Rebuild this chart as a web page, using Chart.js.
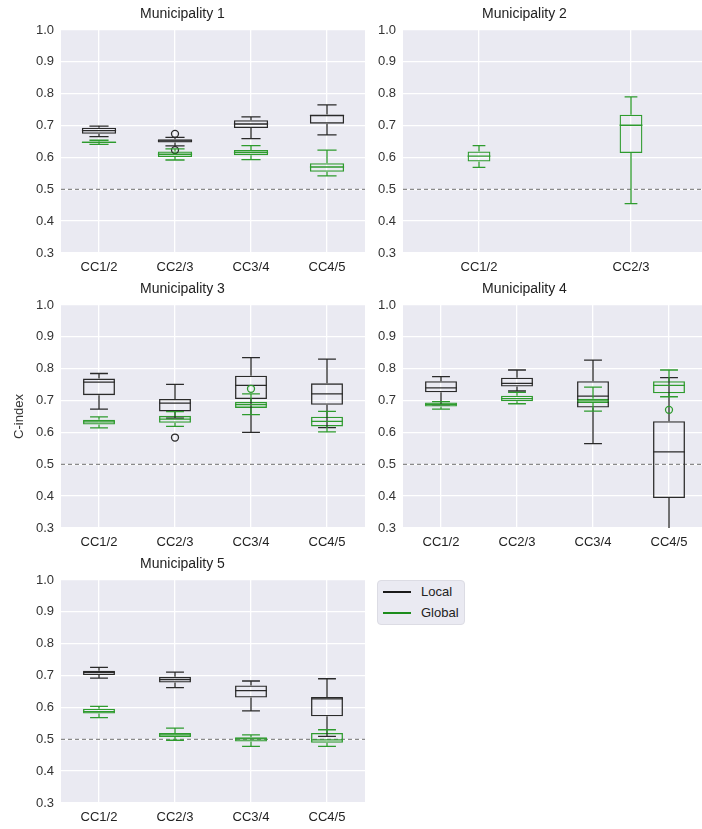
<!DOCTYPE html>
<html>
<head>
<meta charset="utf-8">
<script src="https://cdn.jsdelivr.net/npm/chart.js@4/dist/chart.umd.min.js"></script>
<style>
  body { margin:0; background:#fff; width:702px; height:829px; overflow:hidden; position:relative;
         font-family:"Liberation Sans", Arial, sans-serif; }
  canvas { position:absolute; }
  #legend { position:absolute; left:377px; top:580px; width:88px; height:45px; background:#eaeaf2;
            border:1px solid #dcdce4; border-radius:4px; box-sizing:border-box; }
  #legend .row { position:absolute; left:0; height:20px; font-size:13px; color:#222; }
  #legend .ln { position:absolute; left:5px; width:28px; height:2px; top:9px; }
  #legend .tx { position:absolute; left:43px; top:2px; }
</style>
</head>
<body>
<canvas id="m1"></canvas>
<canvas id="m2"></canvas>
<canvas id="m3"></canvas>
<canvas id="m4"></canvas>
<canvas id="m5"></canvas>
<div id="legend">
  <div class="row" style="top:1px"><span class="ln" style="background:#1a1a1a"></span><span class="tx">Local</span></div>
  <div class="row" style="top:22px"><span class="ln" style="background:#1c8c1c"></span><span class="tx">Global</span></div>
</div>
<script>
// box stats: [min whisker, q1, median, q3, max whisker]
var categories = ['CC1/2', 'CC2/3', 'CC3/4', 'CC4/5'];
var categoriesM2 = ['CC1/2', 'CC2/3'];

var m1Local  = [[0.665,0.674,0.684,0.693,0.698],[0.636,0.647,0.652,0.657,0.663],[0.659,0.692,0.705,0.717,0.727],[0.671,0.706,0.731,0.735,0.765]];
var m1Global = [[0.641,0.645,0.647,0.650,0.654],[0.592,0.601,0.610,0.619,0.627],[0.593,0.607,0.615,0.623,0.637],[0.542,0.555,0.570,0.582,0.623]];
var m1LocalOut  = [[], [0.674, 0.623], [], []];
var m1GlobalOut = [[], [], [], []];

var m2Global = [[0.569,0.587,0.604,0.619,0.637],[0.455,0.614,0.701,0.734,0.790]];
var m2GlobalOut = [[], []];

var m3Local  = [[0.673,0.717,0.758,0.769,0.785],[0.645,0.666,0.692,0.705,0.751],[0.600,0.705,0.748,0.778,0.835],[0.615,0.687,0.721,0.754,0.830]];
var m3Global = [[0.614,0.625,0.633,0.640,0.649],[0.619,0.630,0.642,0.652,0.665],[0.656,0.677,0.687,0.696,0.721],[0.602,0.619,0.635,0.649,0.666]];
var m3LocalOut  = [[], [0.584], [], []];
var m3GlobalOut = [[], [], [0.737], []];

var m4Local  = [[0.687,0.726,0.740,0.761,0.775],[0.730,0.744,0.754,0.772,0.796],[0.565,0.678,0.714,0.761,0.827],[0.280,0.394,0.539,0.635,0.772]];
var m4Global = [[0.673,0.681,0.688,0.694,0.697],[0.690,0.698,0.706,0.715,0.726],[0.667,0.692,0.699,0.706,0.742],[0.712,0.723,0.748,0.761,0.796]];
var m4LocalOut  = [[], [], [], []];
var m4GlobalOut = [[], [], [], [0.671]];

var m5Local  = [[0.692,0.702,0.710,0.715,0.726],[0.662,0.678,0.687,0.696,0.711],[0.589,0.631,0.653,0.669,0.683],[0.509,0.572,0.627,0.633,0.690]];
var m5Global = [[0.568,0.581,0.587,0.596,0.603],[0.497,0.507,0.514,0.520,0.535],[0.478,0.493,0.501,0.506,0.514],[0.478,0.489,0.498,0.520,0.530]];
var m5LocalOut  = [[], [], [], []];
var m5GlobalOut = [[], [], [], []];

var yTicks = [0.3, 0.4, 0.5, 0.6, 0.7, 0.8, 0.9, 1.0];
var chanceLevel = 0.5;

var LOCAL_COLOR = '#2a2a2a';
var GLOBAL_COLOR = '#2e9b2e';
var AXIS_W = 61, TITLE_H = 24, XAXIS_H = 30;

var bgPlugin = {
    id: 'bg',
    beforeDraw: function (chart) {
        var a = chart.chartArea, ctx = chart.ctx;
        ctx.save();
        ctx.fillStyle = '#eaeaf2';
        ctx.fillRect(a.left, a.top, a.right - a.left, a.bottom - a.top);
        ctx.restore();
    }
};

var boxPlugin = {
    id: 'boxes',
    beforeDatasetsDraw: function (chart) {
        var a = chart.chartArea, ctx = chart.ctx;
        var y = chart.scales.y.getPixelForValue(chanceLevel);
        ctx.save();
        ctx.strokeStyle = '#8a8a8a';
        ctx.lineWidth = 1.2;
        ctx.setLineDash([4, 3]);
        ctx.beginPath();
        ctx.moveTo(a.left, y);
        ctx.lineTo(a.right, y);
        ctx.stroke();
        ctx.restore();
    },
    afterDatasetsDraw: function (chart) {
        var a = chart.chartArea, ctx = chart.ctx, ys = chart.scales.y;
        ctx.save();
        ctx.beginPath();
        ctx.rect(a.left, a.top, a.right - a.left, a.bottom - a.top);
        ctx.clip();
        chart.data.datasets.forEach(function (ds, i) {
            var meta = chart.getDatasetMeta(i);
            ctx.strokeStyle = ds.borderColor;
            ctx.lineWidth = 1.3;
            meta.data.forEach(function (el, j) {
                var s = ds.stats[j];
                var x = el.x, half = el.width / 2, cap = el.width * 0.28;
                var pMin = ys.getPixelForValue(s[0]), pQ1 = ys.getPixelForValue(s[1]);
                var pMed = ys.getPixelForValue(s[2]), pQ3 = ys.getPixelForValue(s[3]);
                var pMax = ys.getPixelForValue(s[4]);
                ctx.beginPath();
                ctx.moveTo(x, pQ3); ctx.lineTo(x, pMax);
                ctx.moveTo(x - cap, pMax); ctx.lineTo(x + cap, pMax);
                ctx.moveTo(x, pQ1); ctx.lineTo(x, pMin);
                ctx.moveTo(x - cap, pMin); ctx.lineTo(x + cap, pMin);
                ctx.moveTo(x - half, pMed); ctx.lineTo(x + half, pMed);
                ctx.stroke();
                (ds.outliers[j] || []).forEach(function (v) {
                    ctx.beginPath();
                    ctx.arc(x, ys.getPixelForValue(v), 3.5, 0, Math.PI * 2);
                    ctx.stroke();
                });
            });
        });
        ctx.restore();
    }
};

function boxDataset(label, stats, outliers, color, pct) {
    return {
        label: label,
        data: stats.map(function (s) { return [s[1], s[3]]; }),
        stats: stats,
        outliers: outliers,
        backgroundColor: 'rgba(0,0,0,0)',
        borderColor: color,
        borderWidth: 1.3,
        borderSkipped: false,
        grouped: false,
        barPercentage: pct,
        categoryPercentage: 1.0
    };
}

function makePanel(id, plot, title, labels, datasets, yTitle) {
    var cv = document.getElementById(id);
    cv.width = AXIS_W + plot.w;
    cv.height = TITLE_H + plot.h + XAXIS_H;
    cv.style.left = (plot.left - AXIS_W) + 'px';
    cv.style.top = (plot.top - TITLE_H) + 'px';
    return new Chart(cv, {
        type: 'bar',
        data: { labels: labels, datasets: datasets },
        options: {
            responsive: false,
            animation: false,
            devicePixelRatio: 1,
            layout: { padding: 0 },
            plugins: {
                legend: { display: false },
                tooltip: { enabled: false },
                title: {
                    display: true, text: title, color: '#222',
                    font: { family: 'Liberation Sans', size: 14, weight: 'normal', lineHeight: 17 / 14 },
                    padding: { top: 0, bottom: 7 }
                }
            },
            scales: {
                x: {
                    grid: { color: '#ffffff', lineWidth: 1.3, offset: false, drawTicks: false },
                    border: { display: false },
                    ticks: { color: '#222', padding: 7, font: { family: 'Liberation Sans', size: 13 } },
                    afterFit: function (s) { s.height = XAXIS_H; }
                },
                y: {
                    min: yTicks[0], max: yTicks[yTicks.length - 1],
                    afterBuildTicks: function (s) { s.ticks = yTicks.map(function (v) { return { value: v }; }); },
                    grid: { color: '#ffffff', lineWidth: 1.3, drawTicks: false },
                    border: { display: false },
                    ticks: {
                        color: '#333', padding: 7, font: { family: 'Liberation Sans', size: 13 },
                        callback: function (v) { return Number(v).toFixed(1); }
                    },
                    title: {
                        display: !!yTitle, text: yTitle || '', color: '#333',
                        font: { family: 'Liberation Sans', size: 13 }, padding: { top: 12, bottom: 0 }
                    },
                    afterFit: function (s) { s.width = AXIS_W; }
                }
            }
        },
        plugins: [bgPlugin, boxPlugin]
    });
}

makePanel('m1', { left: 61, top: 30, w: 304, h: 223 }, 'Municipality 1', categories, [
    boxDataset('Local', m1Local, m1LocalOut, LOCAL_COLOR, 0.45),
    boxDataset('Global', m1Global, m1GlobalOut, GLOBAL_COLOR, 0.45)
]);
makePanel('m2', { left: 403, top: 30, w: 304, h: 223 }, 'Municipality 2', categoriesM2, [
    boxDataset('Global', m2Global, m2GlobalOut, GLOBAL_COLOR, 0.15)
]);
makePanel('m3', { left: 61, top: 305, w: 304, h: 223 }, 'Municipality 3', categories, [
    boxDataset('Local', m3Local, m3LocalOut, LOCAL_COLOR, 0.42),
    boxDataset('Global', m3Global, m3GlobalOut, GLOBAL_COLOR, 0.42)
], 'C-index');
makePanel('m4', { left: 403, top: 305, w: 304, h: 223 }, 'Municipality 4', categories, [
    boxDataset('Local', m4Local, m4LocalOut, LOCAL_COLOR, 0.42),
    boxDataset('Global', m4Global, m4GlobalOut, GLOBAL_COLOR, 0.42)
]);
makePanel('m5', { left: 61, top: 580, w: 304, h: 223 }, 'Municipality 5', categories, [
    boxDataset('Local', m5Local, m5LocalOut, LOCAL_COLOR, 0.42),
    boxDataset('Global', m5Global, m5GlobalOut, GLOBAL_COLOR, 0.42)
]);
</script>
</body>
</html>
